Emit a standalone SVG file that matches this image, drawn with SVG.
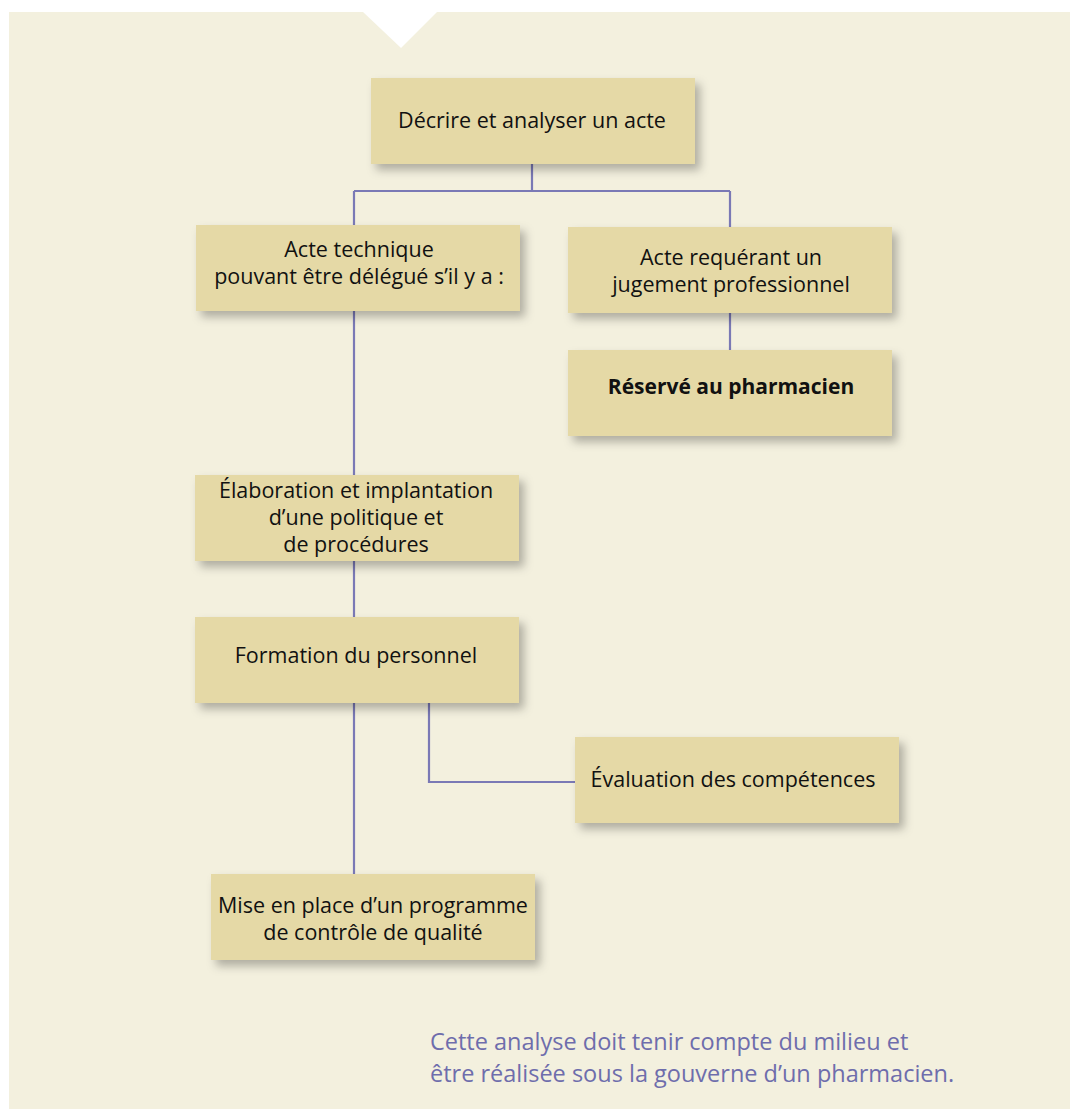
<svg xmlns="http://www.w3.org/2000/svg" width="1070" height="1109" viewBox="0 0 1070 1109">
<defs>
<filter id="sh" x="-10%" y="-20%" width="130%" height="160%">
<feDropShadow dx="5" dy="6" stdDeviation="5" flood-color="#000" flood-opacity="0.28"/>
</filter>
<style>
.box{fill:#e5d9a6;filter:url(#sh)}
.t{font-family:"Open Sans","Noto Sans",sans-serif;font-size:21.5px;fill:#111;text-anchor:middle}
.b{font-weight:bold;font-size:21px}
.c{fill:none;stroke:#7a79b5;stroke-width:2.2}
.note{font-family:"Open Sans","Noto Sans",sans-serif;font-size:23.5px;fill:#6e6dac}
</style>
</defs>
<rect x="0" y="0" width="1070" height="1109" fill="#ffffff"/>
<rect x="9" y="12" width="1061" height="1097" fill="#f3f0de"/>
<polygon points="363,12 437,12 401,48" fill="#ffffff"/>
<g id="connectors">
<path class="c" d="M532 164 V191 M354 191 H730 M354 191 V225 M730 191 V227"/>
<path class="c" d="M730 312 V350"/>
<path class="c" d="M354 311 V475"/>
<path class="c" d="M354 561 V617"/>
<path class="c" d="M354 703 V874"/>
<path class="c" d="M429 703 V782 H575"/>
</g>
<g id="n1"><rect class="box" x="371" y="78" width="324" height="86"/><text class="t" x="532" y="128">Décrire et analyser un acte</text></g>
<g id="n2"><rect class="box" x="196" y="225" width="324" height="86"/><text class="t" x="359" y="257">Acte technique</text><text class="t" x="359" y="284">pouvant être délégué s’il y a :</text></g>
<g id="n3"><rect class="box" x="568" y="227" width="324" height="86"/><text class="t" x="731" y="265">Acte requérant un</text><text class="t" x="731" y="292">jugement professionnel</text></g>
<g id="n4"><rect class="box" x="568" y="350" width="324" height="86"/><text class="t b" x="731" y="394">Réservé au pharmacien</text></g>
<g id="n5"><rect class="box" x="195" y="475" width="324" height="86"/><text class="t" x="356" y="498">Élaboration et implantation</text><text class="t" x="356" y="525">d’une politique et</text><text class="t" x="356" y="552">de procédures</text></g>
<g id="n6"><rect class="box" x="195" y="617" width="324" height="86"/><text class="t" x="356" y="663">Formation du personnel</text></g>
<g id="n7"><rect class="box" x="575" y="737" width="324" height="86"/><text class="t" x="733" y="787">Évaluation des compétences</text></g>
<g id="n8"><rect class="box" x="211" y="874" width="324" height="86"/><text class="t" x="373" y="913">Mise en place d’un programme</text><text class="t" x="373" y="940">de contrôle de qualité</text></g>
<g id="note"><text class="note" x="430" y="1050">Cette analyse doit tenir compte du milieu et</text><text class="note" x="430" y="1082">être réalisée sous la gouverne d’un pharmacien.</text></g>
</svg>
